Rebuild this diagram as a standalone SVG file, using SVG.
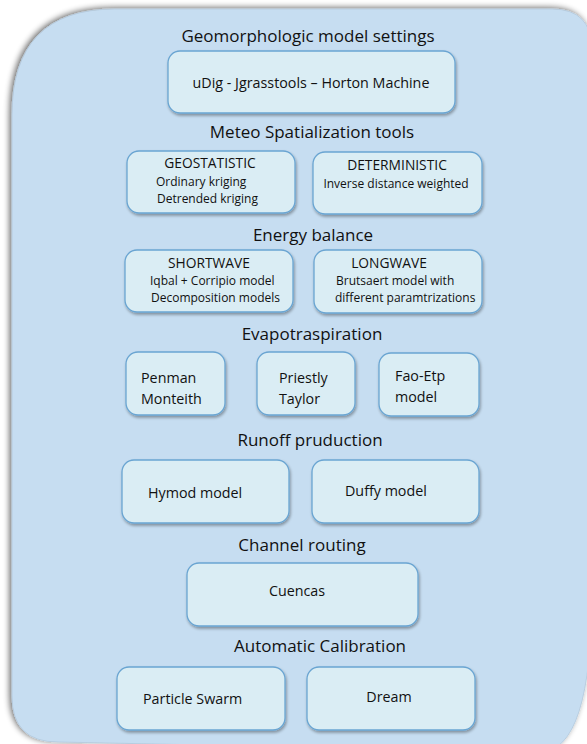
<svg xmlns="http://www.w3.org/2000/svg" width="587" height="744" viewBox="0 0 587 744">
<defs>
<filter id="sh" x="-10%" y="-10%" width="125%" height="130%">
<feGaussianBlur in="SourceAlpha" stdDeviation="1.5"/>
<feOffset dx="1" dy="2" result="b"/>
<feComponentTransfer><feFuncA type="linear" slope="0.35"/></feComponentTransfer>
<feMerge><feMergeNode/><feMergeNode in="SourceGraphic"/></feMerge>
</filter>
<filter id="bsh" x="-10%" y="-10%" width="120%" height="120%">
<feGaussianBlur in="SourceAlpha" stdDeviation="3"/>
<feOffset dx="-2" dy="-1"/>
<feComponentTransfer><feFuncA type="linear" slope="0.6"/></feComponentTransfer>
<feMerge><feMergeNode/><feMergeNode in="SourceGraphic"/></feMerge>
</filter>
</defs>
<style>
.box{fill:#daedf4;stroke:#6aa5d2;stroke-width:1.3;filter:url(#sh)}
.h{font-family:"Open Sans","Liberation Sans",sans-serif;font-size:17px;fill:#111;text-anchor:middle}
.t{font-family:"Open Sans","Liberation Sans",sans-serif;font-size:14.3px;fill:#111}
.k{font-family:"Open Sans","Liberation Sans",sans-serif;font-size:13.8px;fill:#111;text-anchor:middle}
.s{font-family:"Open Sans","Liberation Sans",sans-serif;font-size:12px;fill:#111}
.m{text-anchor:middle}
</style>
<rect width="587" height="744" fill="#ffffff"/>
<path d="M115,9 L552,9 Q592,9 592,50 L592,590 Q592,752 540,752 L58,742 Q12,742 12,696 L12,115 Q12,9 115,9 Z" fill="#c6ddf1" stroke="#b3c9dd" stroke-width="0.8" filter="url(#bsh)"/>

<text class="h" x="308" y="42">Geomorphologic model settings</text>
<g id="udig"><rect class="box" x="168" y="51" width="287" height="62" rx="12"/>
<text class="t m" x="311" y="88">uDig - Jgrasstools – Horton Machine</text></g>

<text class="h" x="312" y="138">Meteo Spatialization tools</text>
<g id="geostatistic"><rect class="box" x="127" y="151" width="168" height="62" rx="12"/>
<text class="k" x="210" y="168">GEOSTATISTIC</text>
<text class="s" x="156" y="186">Ordinary kriging</text>
<text class="s" x="157" y="203">Detrended kriging</text></g>
<g id="deterministic"><rect class="box" x="313" y="152" width="169" height="62" rx="12"/>
<text class="k" x="397" y="170">DETERMINISTIC</text>
<text class="s m" x="396" y="188">Inverse distance weighted</text></g>

<text class="h" x="313" y="241">Energy balance</text>
<g id="shortwave"><rect class="box" x="125" y="250" width="168" height="62" rx="12"/>
<text class="k" x="209" y="268">SHORTWAVE</text>
<text class="s" x="150" y="285">Iqbal + Corripio model</text>
<text class="s" x="151" y="302">Decomposition models</text></g>
<g id="longwave"><rect class="box" x="314" y="250" width="168" height="63" rx="12"/>
<text class="k" x="389" y="268">LONGWAVE</text>
<text class="s" x="336" y="285">Brutsaert model with</text>
<text class="s" x="335" y="302">different paramtrizations</text></g>

<text class="h" x="312" y="340">Evapotraspiration</text>
<g id="penman"><rect class="box" x="126" y="352" width="99" height="63" rx="12"/>
<text class="t" x="141" y="383">Penman</text>
<text class="t" x="141" y="404">Monteith</text></g>
<g id="priestly"><rect class="box" x="257" y="352" width="98" height="63" rx="12"/>
<text class="t" x="279" y="383">Priestly</text>
<text class="t" x="279" y="404">Taylor</text></g>
<g id="faoetp"><rect class="box" x="379" y="353" width="100" height="63" rx="12"/>
<text class="t" x="395" y="381">Fao-Etp</text>
<text class="t" x="395" y="402">model</text></g>

<text class="h" x="310" y="446">Runoff pruduction</text>
<g id="hymod"><rect class="box" x="122" y="460" width="167" height="63" rx="12"/>
<text class="t" x="148" y="498">Hymod model</text></g>
<g id="duffy"><rect class="box" x="312" y="460" width="167" height="63" rx="12"/>
<text class="t" x="345" y="496">Duffy model</text></g>

<text class="h" x="302" y="551">Channel routing</text>
<g id="cuencas"><rect class="box" x="187" y="563" width="231" height="63" rx="12"/>
<text class="t m" x="297" y="596">Cuencas</text></g>

<text class="h" x="320" y="652">Automatic Calibration</text>
<g id="pso"><rect class="box" x="117" y="667" width="168" height="63" rx="12"/>
<text class="t" x="143" y="704">Particle Swarm</text></g>
<g id="dream"><rect class="box" x="307" y="667" width="168" height="63" rx="12"/>
<text class="t m" x="389" y="702">Dream</text></g>
<g id="connectors"/>
</svg>
